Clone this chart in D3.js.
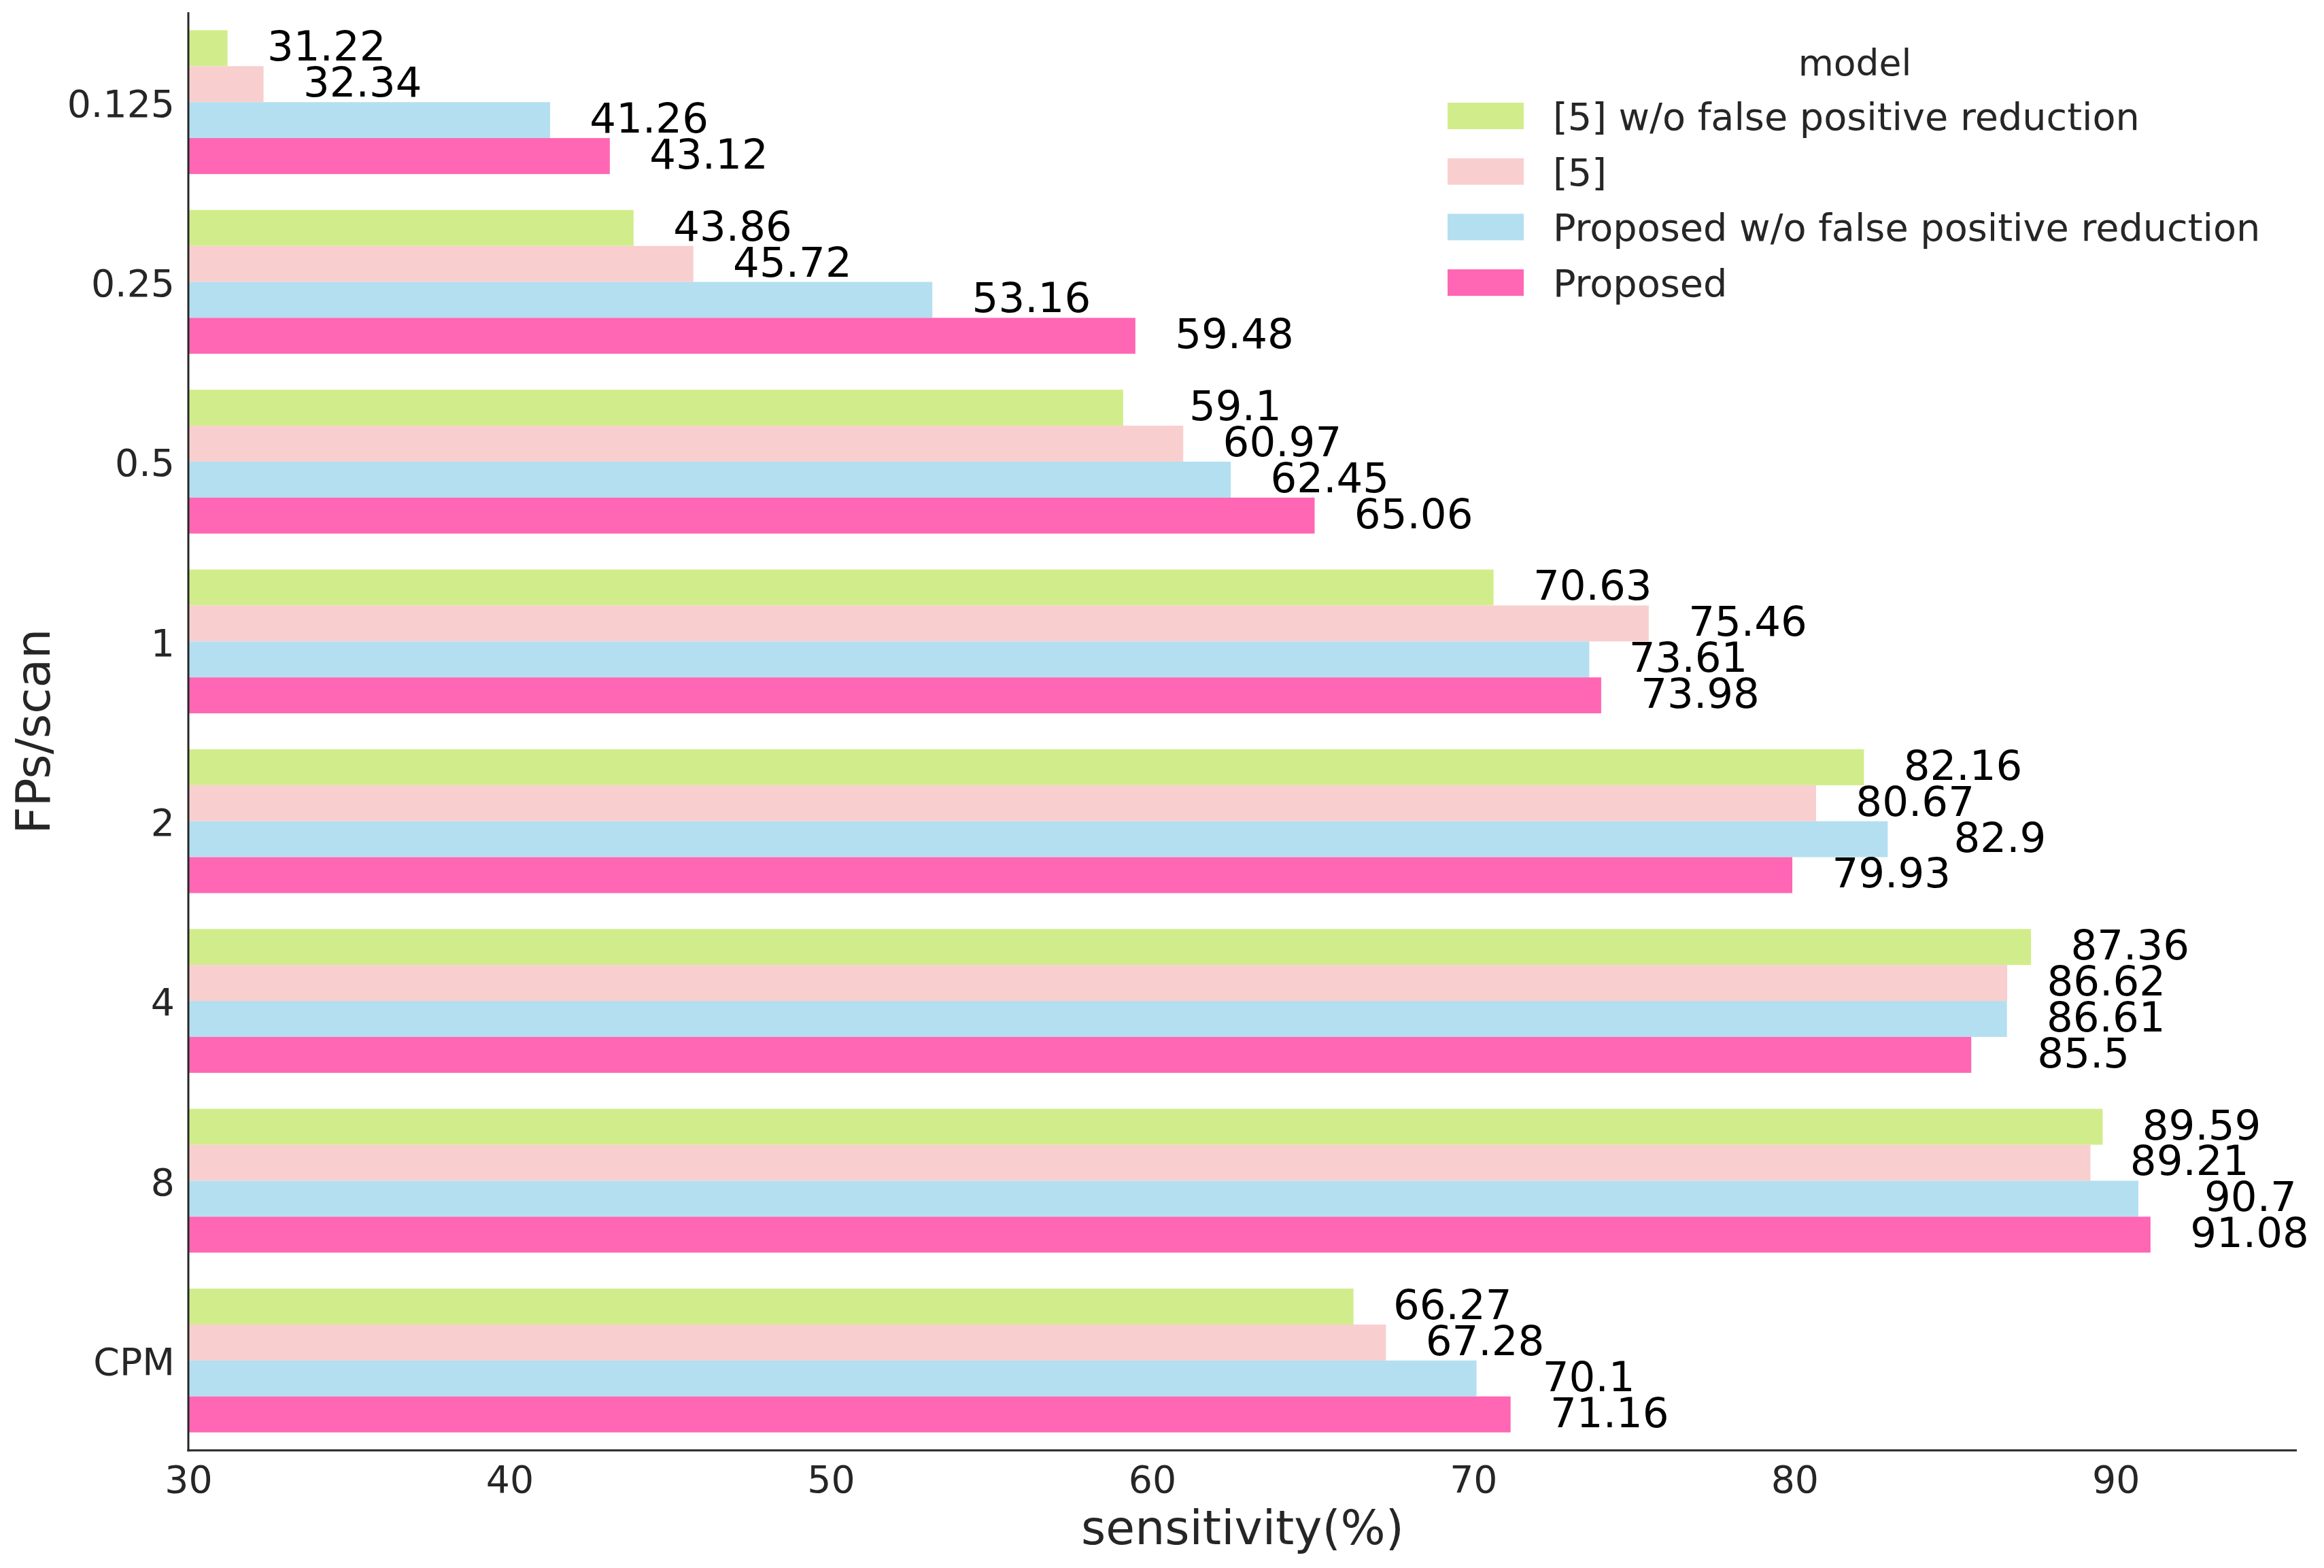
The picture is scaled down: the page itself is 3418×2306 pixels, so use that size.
<!DOCTYPE html>
<html>
<head>
<meta charset="utf-8">
<script src="https://cdn.jsdelivr.net/npm/d3@7"></script>
<style>
  html, body { margin: 0; padding: 0; background: #ffffff; }
  svg { display: block; }
  text { font-family: "DejaVu Sans", sans-serif; }
</style>
</head>
<body>
<script>
// ---- data ----
const categories = ["0.125", "0.25", "0.5", "1", "2", "4", "8", "CPM"];
const seriesNames = [
  "[5] w/o false positive reduction",
  "[5]",
  "Proposed w/o false positive reduction",
  "Proposed"
];
const ref5WithoutFPR = [31.22, 43.86, 59.1, 70.63, 82.16, 87.36, 89.59, 66.27];
const ref5 = [32.34, 45.72, 60.97, 75.46, 80.67, 86.62, 89.21, 67.28];
const proposedWithoutFPR = [41.26, 53.16, 62.45, 73.61, 82.9, 86.61, 90.7, 70.1];
const proposed = [43.12, 59.48, 65.06, 73.98, 79.93, 85.5, 91.08, 71.16];
const xTicks = [30, 40, 50, 60, 70, 80, 90];
const colors = ["#d1ed8b", "#f8cfce", "#b4dff0", "#ff66b3"];

const seriesValues = [ref5WithoutFPR, ref5, proposedWithoutFPR, proposed];

// ---- layout ----
const W = 3418, H = 2306;
const pLeft = 277, pRight = 3378, pTop = 18, pBottom = 2133;
const textColor = "#262626";

const svg = d3.select("body").append("svg")
  .attr("width", W).attr("height", H)
  .attr("viewBox", `0 0 ${W} ${H}`);

svg.append("rect").attr("width", W).attr("height", H).attr("fill", "#ffffff");

const xMax = d3.max(seriesValues.flat()) * 1.05;
const x = d3.scaleLinear().domain([30, xMax]).range([pLeft, pRight]);
const y = d3.scaleBand().domain(categories).range([pTop, pBottom])
  .paddingInner(0.2).paddingOuter(0.1);
const ySub = d3.scaleBand().domain(d3.range(seriesNames.length))
  .range([0, y.bandwidth()]).padding(0);

// rows: one record per bar
const bars = [];
categories.forEach((c, i) => {
  seriesValues.forEach((vals, s) => {
    bars.push({ cat: c, s: s, v: vals[i] });
  });
});

const gBars = svg.append("g");
gBars.selectAll("rect").data(bars).enter().append("rect")
  .attr("x", x(30))
  .attr("y", d => y(d.cat) + ySub(d.s))
  .attr("width", d => x(d.v) - x(30))
  .attr("height", ySub.bandwidth())
  .attr("fill", d => colors[d.s]);

// value labels
svg.append("g").selectAll("text").data(bars).enter().append("text")
  .attr("x", d => x(d.v) + 233)
  .attr("y", d => y(d.cat) + ySub(d.s) + ySub.bandwidth() / 2 + 18.4)
  .attr("text-anchor", "end")
  .attr("font-size", 61)
  .attr("fill", "#000000")
  .text(d => String(d.v));

// axes (spines only, no tick marks)
const xAxis = d3.axisBottom(x).tickValues(xTicks).tickSize(0).tickPadding(0)
  .tickFormat(d3.format("d"));
const gx = svg.append("g").attr("transform", `translate(0,${pBottom})`).call(xAxis);
gx.select(".domain").remove();
gx.selectAll(".tick text")
  .attr("y", 62).attr("dy", null)
  .attr("font-size", 55.3).attr("fill", textColor)
  .attr("font-family", "DejaVu Sans");

const yAxis = d3.axisLeft(y).tickSize(0).tickPadding(0);
const gy = svg.append("g").attr("transform", `translate(${pLeft},0)`).call(yAxis);
gy.select(".domain").remove();
gy.selectAll(".tick text")
  .attr("x", -20).attr("dy", null).attr("y", 21.3)
  .attr("text-anchor", "end")
  .attr("font-size", 55.3).attr("fill", textColor)
  .attr("font-family", "DejaVu Sans");

// spines
svg.append("line").attr("x1", pLeft).attr("x2", pLeft)
  .attr("y1", pTop).attr("y2", pBottom + 1.5)
  .attr("stroke", textColor).attr("stroke-width", 3);
svg.append("line").attr("x1", pLeft - 1.5).attr("x2", pRight)
  .attr("y1", pBottom).attr("y2", pBottom)
  .attr("stroke", textColor).attr("stroke-width", 3);

// axis labels
svg.append("text")
  .attr("x", (pLeft + pRight) / 2).attr("y", 2270.5)
  .attr("text-anchor", "middle")
  .attr("font-size", 69.6).attr("fill", textColor)
  .text("sensitivity(%)");
svg.append("text")
  .attr("transform", `translate(72.5,${(pTop + pBottom) / 2}) rotate(-90)`)
  .attr("text-anchor", "middle")
  .attr("font-size", 69.6).attr("fill", textColor)
  .text("FPs/scan");

// legend
const legend = svg.append("g");
const legTop = 151, legStep = 81.7;
legend.append("text")
  .attr("x", 2728).attr("y", 110.7)
  .attr("text-anchor", "middle")
  .attr("font-size", 53.5).attr("fill", textColor)
  .text("model");
const items = legend.selectAll("g.item").data(seriesNames).enter().append("g")
  .attr("class", "item")
  .attr("transform", (d, i) => `translate(0,${legTop + i * legStep})`);
items.append("rect")
  .attr("x", 2129).attr("y", 0).attr("width", 112).attr("height", 39)
  .attr("fill", (d, i) => colors[i]);
items.append("text")
  .attr("x", 2284).attr("y", 40)
  .attr("font-size", 55.7).attr("fill", textColor)
  .text(d => d);
</script>
</body>
</html>
